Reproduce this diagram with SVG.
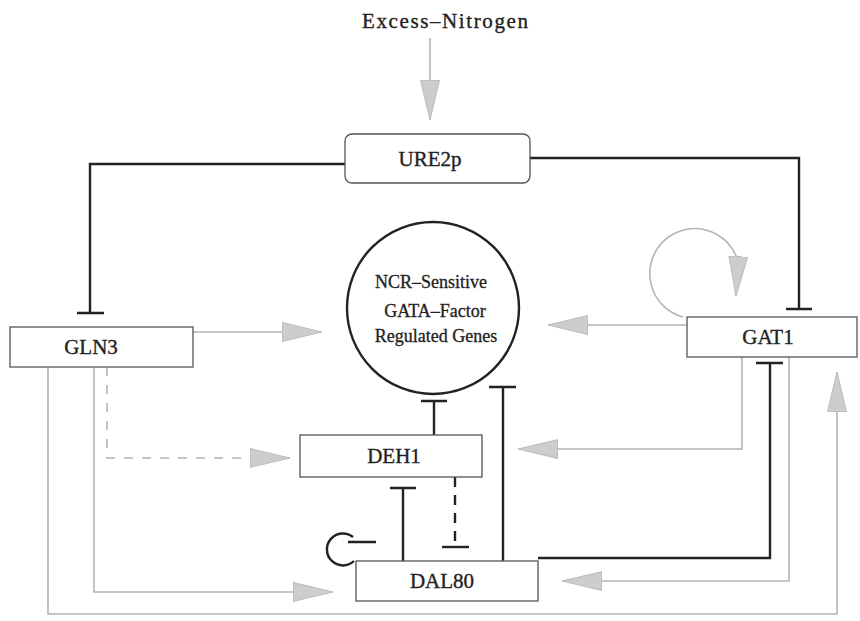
<svg xmlns="http://www.w3.org/2000/svg" width="860" height="621" viewBox="0 0 860 621">
<style>
.box{fill:#fff;stroke:#555;stroke-width:1.3}
.lbl{font-family:"Liberation Serif","Times New Roman",serif;font-size:21px;fill:#222;stroke:#222;stroke-width:0.35;text-anchor:middle}
.clbl{font-family:"Liberation Serif","Times New Roman",serif;font-size:18px;fill:#222;stroke:#222;stroke-width:0.3;text-anchor:middle}
.act{fill:none;stroke:#b4b4b4;stroke-width:1.6}
.dash{stroke-dasharray:9,9}
.inh{fill:none;stroke:#222;stroke-width:2.4}
.bdash{stroke-dasharray:10,8}
</style>
<defs>
<marker id="ah" markerUnits="userSpaceOnUse" markerWidth="40" markerHeight="22" viewBox="0 0 36 20" refX="36" refY="10" orient="auto">
<path d="M0,1.5 L36,10 L0,18.5 Z" fill="#cdcdcd" stroke="#bdbdbd" stroke-width="1"/>
</marker>
</defs>
<g id="connectors">
<path class="act" d="M430,38 V120" marker-end="url(#ah)"/>
<path class="inh" d="M345,164 H90 V313 M77,313 H104"/>
<path class="inh" d="M530,158 H799 V309 M786,309 H812"/>
<path class="act" d="M193,332 H322" marker-end="url(#ah)"/>
<path class="act" d="M687,325 H548" marker-end="url(#ah)"/>
<path class="act" d="M683,317 A45,45 0 1 1 738,261 L736,296" marker-end="url(#ah)"/>
<path class="inh" d="M434,435 V401 M421,401 H447"/>
<path class="inh" d="M503,561 V387 M489,387 H516"/>
<path class="inh" d="M403,561 V488 M390,488 H416"/>
<path class="inh bdash" d="M455,477 V547"/>
<path class="inh" d="M442,547 H469"/>
<path class="inh" d="M354,561 A16,16 0 1 1 353,537 M348,542 H376"/>
<path class="inh" d="M538,558 H770 V363 M756,363 H783"/>
<path class="act" d="M742,357 V449 H518" marker-end="url(#ah)"/>
<path class="act" d="M789,357 V581 H562" marker-end="url(#ah)"/>
<path class="act" d="M94,367 V592 H333" marker-end="url(#ah)"/>
<path class="act dash" d="M107,367 V458 H290" marker-end="url(#ah)"/>
<path class="act" d="M48,367 V614 H837 V372" marker-end="url(#ah)"/>
</g>
<g id="excess">
<text class="lbl" x="445" y="28" font-size="23" textLength="166">Excess–Nitrogen</text>
</g>
<g id="ure2p">
<rect class="box" x="345" y="134" width="185" height="49" rx="7"/>
<text class="lbl" x="430" y="166">URE2p</text>
</g>
<g id="gln3">
<rect class="box" x="10" y="327" width="183" height="40"/>
<text class="lbl" x="91" y="354">GLN3</text>
</g>
<g id="gat1">
<rect class="box" x="687" y="317" width="170" height="40"/>
<text class="lbl" x="768" y="344">GAT1</text>
</g>
<g id="genes">
<circle cx="433" cy="308" r="86" fill="#fff" stroke="#222" stroke-width="2.4"/>
<text class="clbl" x="431" y="288">NCR–Sensitive</text>
<text class="clbl" x="435" y="317">GATA–Factor</text>
<text class="clbl" x="436" y="342">Regulated Genes</text>
</g>
<g id="deh1">
<rect class="box" x="300" y="435" width="182" height="42"/>
<text class="lbl" x="394" y="463">DEH1</text>
</g>
<g id="dal80">
<rect class="box" x="356" y="561" width="182" height="40"/>
<text class="lbl" x="442" y="588">DAL80</text>
</g>
</svg>
